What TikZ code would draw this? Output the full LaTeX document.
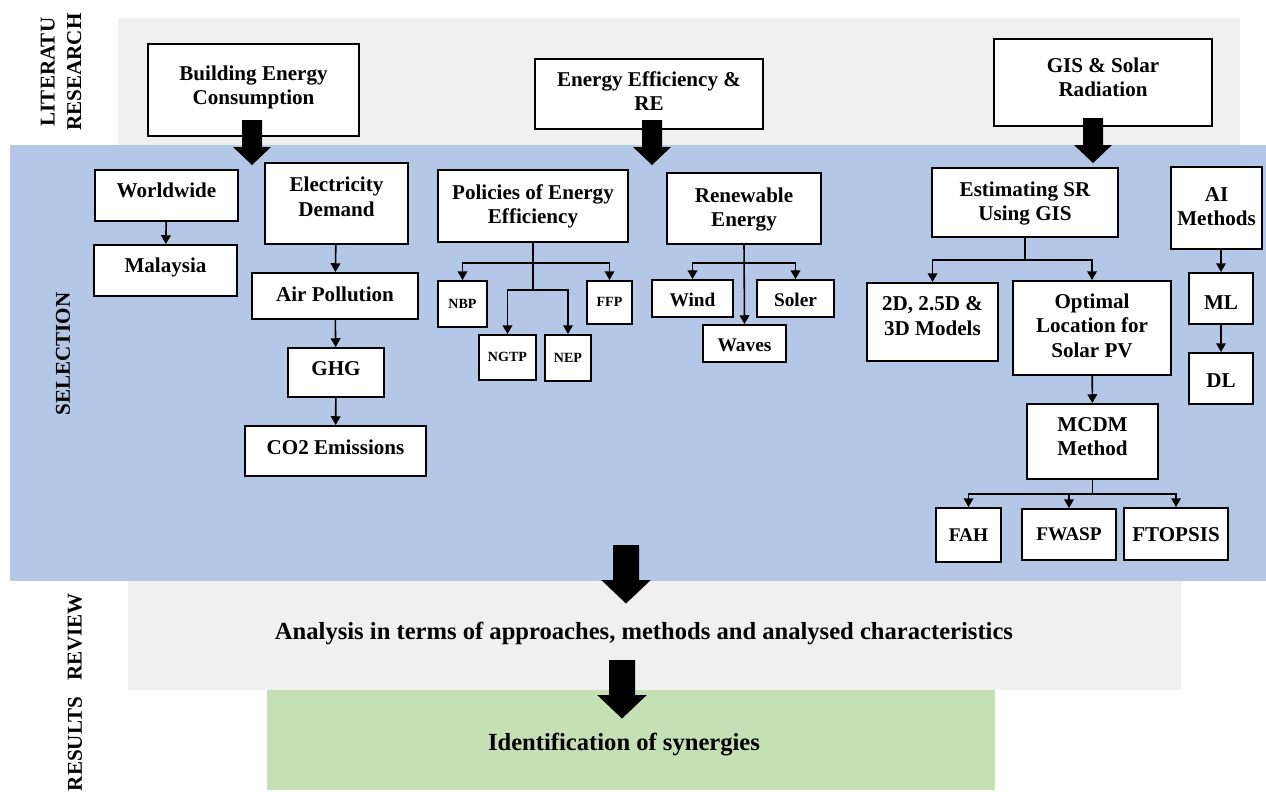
\documentclass[tikz,border=0pt]{standalone}
\usepackage{fontspec}
\setmainfont{Liberation Serif}
\usetikzlibrary{arrows.meta}

\definecolor{bandgrey}{RGB}{240,240,240}
\definecolor{bandblue}{RGB}{180,199,231}
\definecolor{bandgreen}{RGB}{197,224,180}

\tikzset{
  lift/.code = {\def\liftby{#1}},
  box/.style = {draw = black, line width = 1.1pt, fill = white, align = center,
    inner sep = 2pt, lift = -0.5pt, font = \bfseries\fontsize{12}{13.8}\selectfont},
  mid/.style = {lift = -2pt, font = \bfseries\fontsize{11}{13}\selectfont},
  tiny/.style = {font = \bfseries\fontsize{8}{9}\selectfont},
  line/.style = {line width = 0.9pt},
  arr/.style = {line width = 0.9pt, -{Triangle[length = 5pt, width = 5.5pt]}},
  stage/.style = {rotate = 90, align = center, font = \bfseries\fontsize{12}{15}\selectfont},
  band/.style = {font = \bfseries\fontsize{14}{16}\selectfont}
}

\newcommand{\boxat}[7][]{
  \node[box, #1, minimum width = {(#5 - #3)*0.02cm}, minimum height = {(#6 - #4)*0.02cm}]
    (#2) at ({(#3 + #5)/2}, {(#4 + #6)/2})
    {\raisebox{\liftby}[\height][\depth]{\begin{tabular}{@{}c@{}}#7\end{tabular}}};
}

\newcommand{\fatarrow}[1]{
  \begin{scope}[#1]
    \fill[black] (-10, 0) -- (10, 0) -- (10, 27) -- (19, 27)
    -- (0, 45) -- (-19, 27) -- (-10, 27) -- cycle;
  \end{scope}
}

\begin{document}
\begin{tikzpicture}[x = 0.02cm, y = -0.02cm]
  \useasboundingbox (0, 0) rectangle (1266, 794);

  \fill[bandgrey] (118, 18) rectangle (1240, 145);
  \fill[bandblue] (10, 145) rectangle (1266, 581);
  \fill[bandgrey] (128, 581) rectangle (1181, 690);
  \fill[bandgreen] (267, 690) rectangle (995, 790);

  \node[stage] (lit) at (61, 72) {LITERATU\\RESEARCH};
  \node[stage] (sel) at (63, 354) {SELECTION};
  \node[stage] (rev) at (75, 637) {REVIEW};
  \node[stage] (res) at (75, 744) {RESULTS};

  \boxat[lift = 1.4pt]{bec}{148}{44}{359}{136}{Building Energy\\Consumption}
  \boxat[lift = 0.4pt]{eff}{535}{59}{763}{129}{Energy Efficiency \&\\RE}
  \boxat[lift = 1.8pt]{gis}{994}{39}{1212}{126}{GIS \& Solar\\Radiation}

  \fatarrow{shift = {(252, 120)}}
  \fatarrow{shift = {(652, 120)}}
  \fatarrow{shift = {(1093, 118)}}

  \boxat[lift = 1.7pt]{world}{95}{170}{238}{221}{Worldwide}
  \boxat[lift = 1.7pt]{mal}{94}{245}{237}{296}{Malaysia}
  \boxat[lift = 2.5pt]{elec}{265}{163}{408}{244}{Electricity\\Demand}
  \boxat{air}{252}{273}{418}{319}{Air Pollution}
  \boxat[lift = 1.1pt]{ghg}{288}{348}{384}{397}{GHG}
  \boxat[lift = 0.6pt]{co2}{245}{426}{426}{476}{CO2 Emissions}

  \draw[arr] (world) -- (mal);
  \draw[arr] (elec) -- (air);
  \draw[arr] (air) -- (ghg);
  \draw[arr] (ghg) -- (co2);

  \boxat{pol}{438}{170}{628}{242}{Policies of Energy\\Efficiency}
  \boxat[tiny]{nbp}{438}{281}{487}{327}{NBP}
  \boxat[tiny]{ngtp}{479}{335}{536}{380}{NGTP}
  \boxat[tiny]{nep}{545}{335}{591}{381}{NEP}
  \boxat[tiny]{ffp}{587}{281}{632}{324}{FFP}

  \draw[line] (pol.south) -- ++(0, 20) coordinate (pj) -- ++(0, 27) coordinate (pk);
  \draw[arr] (pj) -| (nbp.north);
  \draw[arr] (pj) -| (ffp.north);
  \draw[arr] (pk) -| (ngtp.north);
  \draw[arr] (pk) -| (nep.north);

  \boxat{ren}{667}{173}{821}{244}{Renewable\\Energy}
  \boxat[mid]{wind}{652}{280}{733}{317}{Wind}
  \boxat[mid]{waves}{703}{325}{786}{362}{Waves}
  \boxat[mid]{soler}{757}{280}{834}{317}{Soler}

  \draw[arr] (ren.south) -- (waves.north);
  \path (ren.south) ++(0, 18) coordinate (rj);
  \draw[arr] (rj) -| (wind.north);
  \draw[arr] (rj) -| (soler.north);

  \boxat{esr}{932}{168}{1118}{237}{Estimating SR\\Using GIS}
  \boxat[lift = 2.2pt]{models}{867}{283}{998}{361}{2D, 2.5D \&\\3D Models}
  \boxat[lift = 0pt]{opt}{1013}{281}{1171}{375}{Optimal\\Location for\\Solar PV}
  \boxat[lift = 1.8pt]{mcdm}{1027}{404}{1158}{479}{MCDM\\Method}
  \boxat[mid, lift = -1pt]{fah}{936}{508}{1001}{562}{FAH}
  \boxat[mid, lift = -1pt]{fwasp}{1022}{509}{1116}{560}{FWASP}
  \boxat[lift = -1.5pt]{ftop}{1124}{508}{1228}{560}{FTOPSIS}

  \draw[line] (esr.south) -- ++(0, 22) coordinate (ej);
  \draw[arr] (ej) -| (models.north);
  \draw[arr] (ej) -| (opt.north);
  \draw[arr] (opt) -- (mcdm);
  \draw[line] (mcdm.south) -- ++(0, 14) coordinate (mj);
  \draw[arr] (mj) -| (fah.north);
  \draw[arr] (mj) -| (fwasp.north);
  \draw[arr] (mj) -| (ftop.north);

  \boxat{ai}{1171}{167}{1262}{249}{AI\\Methods}
  \boxat[lift = -3.4pt]{ml}{1189}{273}{1253}{324}{ML}
  \boxat[lift = -2.2pt]{dl}{1189}{353}{1253}{404}{DL}

  \draw[arr] (ai.south -| ml.north) -- (ml.north);
  \draw[arr] (ml) -- (dl);

  \fatarrow{shift = {(626, 545)}, scale = 1.3}
  \node[band] (ana) at (644, 633) {Analysis in terms of approaches, methods and analysed characteristics};

  \fatarrow{shift = {(622, 660)}, scale = 1.3}
  \node[band] (syn) at (624, 745) {Identification of synergies};
\end{tikzpicture}
\end{document}
